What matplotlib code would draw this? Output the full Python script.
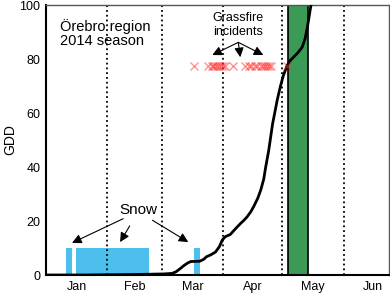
import numpy as np
import matplotlib.pyplot as plt

plt.rcParams['font.family'] = ['Liberation Sans', 'DejaVu Sans']

# day of year (0 = 1 Jan) and accumulated GDD
gdd_day = [0, 20, 45, 53, 60, 64, 66, 68, 70, 72, 73.5, 78, 80, 81.5, 83.4, 86, 88,
           89.5, 91, 93.5, 96, 98.6, 100.5, 102, 104, 105.5, 107.5, 109, 110.5,
           111.5, 113, 115, 117.4, 119, 120.5, 122.5, 124, 125.6, 128, 130,
           131.5, 132.7, 134.7, 136]
gdd_val = [0, 0, 0.2, 0.3, 0.4, 0.6, 1.2, 2.3, 3.5, 4.5, 5, 5.1, 5.8, 6.8, 7.4, 8.5,
           10.5, 13, 14.2, 15, 17, 19, 20.3, 21.5, 23.5, 25.5, 28.5, 31.5, 35.5,
           40, 46, 56, 65, 70, 74, 77.8, 79.5, 80.7, 82.5, 84.4, 87.5, 92, 101, 105]

# snow cover periods (start, end) in day of year
snow_start = [10.2, 15.1, 75.2]
snow_end = [13.2, 52.5, 78.3]
snow_height = 10

# grassfire incident days
fire_days = [75, 82, 84, 85, 86, 87, 88, 89, 90, 91, 95, 101, 103, 104, 106, 107,
             109, 110, 111, 112, 113, 114, 122.5]
fire_level = 77.5

# green period
green_start, green_end = 123, 133

month_starts = [31, 59, 90, 120, 151]
month_mids = [15.5, 45, 74.5, 105, 135.5, 166]
month_names = ['Jan', 'Feb', 'Mar', 'Apr', 'May', 'Jun']

fig = plt.figure(figsize=(3.9, 2.94), dpi=100)
ax = fig.add_axes([0.118, 0.0646, 0.879, 0.918])

for s, e in zip(snow_start, snow_end):
    ax.bar(s, snow_height, width=e - s, align='edge', color='#4dbfec', zorder=1)

ax.axvspan(green_start, green_end, color='#3a9a56', ec='black', lw=1.2, zorder=1)

for m in month_starts:
    ax.axvline(m, color='black', ls=':', lw=1.3, zorder=2)

ax.plot(gdd_day, gdd_val, color='black', lw=2, zorder=3)

ax.plot(fire_days, [fire_level] * len(fire_days), 'x', color='#ff2a2a',
        alpha=0.5, ms=6, mew=1, zorder=4)

ax.text(7, 92.2, 'Örebro region', fontsize=10.5, va='center', ha='left')
ax.text(7, 86.6, '2014 season', fontsize=10.5, va='center', ha='left')

arr = dict(arrowstyle='-|>', color='black', lw=0.8, mutation_scale=14, shrinkB=0)
for tip in [(13.2, 11.9), (37.6, 12.2), (72.2, 12.2)]:
    ax.annotate('', xy=tip, xytext=(46.8, 23.5), arrowprops=dict(arr, shrinkA=12))
ax.text(46.8, 24, 'Snow', fontsize=11, ha='center', va='center')

for tip in [(84.4, 81.5), (98.6, 80.7), (110.3, 81.5)]:
    ax.annotate('', xy=tip, xytext=(97.6, 86.2), arrowprops=dict(arr, shrinkA=0))
ax.text(97.6, 92.6, 'Grassfire\nincidents', fontsize=9, ha='center', va='center',
        linespacing=1.3)

ax.set_xlim(0, 174)
ax.set_ylim(0, 100)
ax.set_xticks(month_mids)
ax.set_xticklabels(month_names)
ax.set_yticks([0, 20, 40, 60, 80, 100])
ax.tick_params(length=0, labelsize=9, pad=4)
ax.set_ylabel('GDD', fontsize=10)
ax.yaxis.set_label_coords(-0.085, 0.5)

for side in ['top', 'right']:
    ax.spines[side].set_color('#555555')
    ax.spines[side].set_linewidth(1)
for side in ['left', 'bottom']:
    ax.spines[side].set_linewidth(1.5)

fig.savefig('out.png', dpi=100)
